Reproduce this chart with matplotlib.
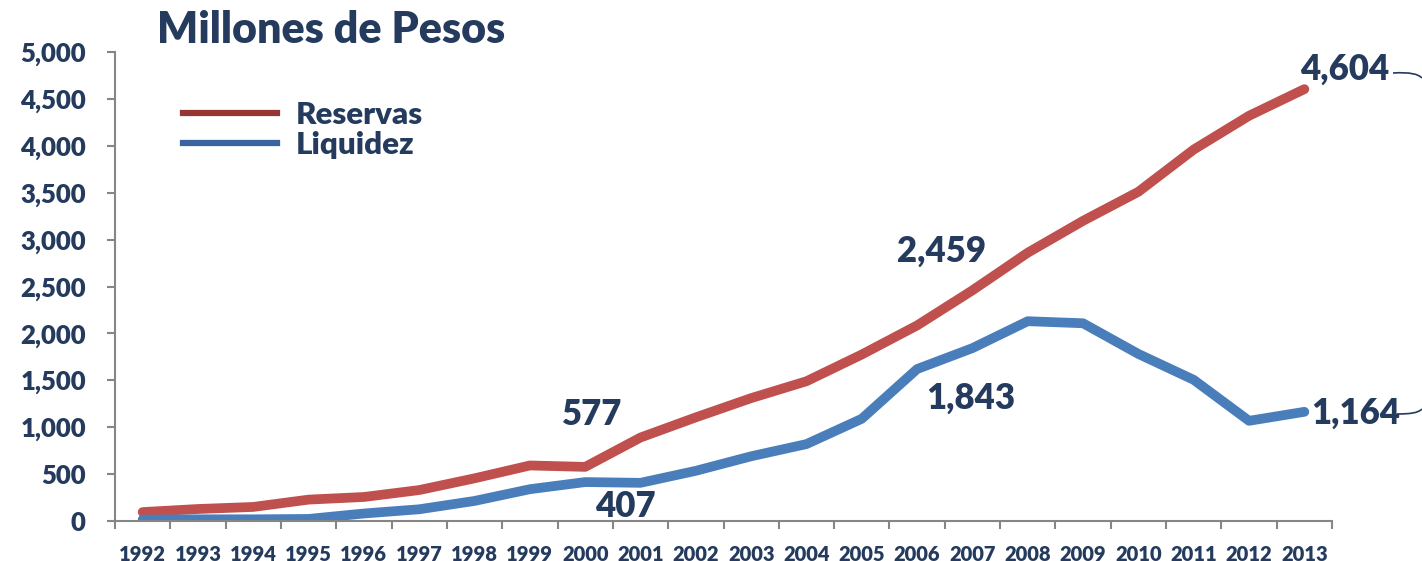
import matplotlib.pyplot as plt
import numpy as np
from matplotlib.lines import Line2D
from matplotlib.path import Path
from matplotlib.patches import PathPatch
from matplotlib.ticker import FixedLocator, StrMethodFormatter

plt.rcParams['font.family'] = ['Lato', 'DejaVu Sans']
plt.rcParams['font.weight'] = 'heavy'

years = [str(y) for y in range(1992, 2014)]
reservas = [95, 128, 150, 228, 256, 330, 455, 592, 577, 890, 1105, 1310,
            1490, 1775, 2085, 2459, 2860, 3200, 3510, 3960, 4320, 4604]
liquidez = [15, 18, 18, 22, 80, 125, 214, 339, 415, 407, 535, 690,
            820, 1090, 1620, 1843, 2130, 2108, 1781, 1505, 1068, 1164]

# year -> label offset in points
labels_reservas = {"2000": (5, 38), "2007": (-22, 28), "2013": (29, 14)}
labels_liquidez = {"2001": (-11, -17), "2007": (-1, -36), "2013": (37, -1)}

navy = "#243B5E"
red = "#C0504D"
blue = "#4A7EBB"
grey = "#868686"

fig = plt.figure(figsize=(14.22, 5.61), dpi=100)
ax = fig.add_axes([115 / 1422, 40 / 561, 1217 / 1422, 469 / 561])

x = np.arange(len(years))
ax.plot(x, reservas, color=red, lw=7, solid_capstyle="round", solid_joinstyle="round")
ax.plot(x, liquidez, color=blue, lw=7, solid_capstyle="round", solid_joinstyle="round")

ax.set_xlim(-0.5, len(years) - 0.5)
ax.set_ylim(0, 5000)
ax.set_yticks(np.arange(0, 5001, 500))
ax.yaxis.set_major_formatter(StrMethodFormatter("{x:,.0f}"))
ax.set_xticks(x)
ax.set_xticklabels(years)
ax.xaxis.set_minor_locator(FixedLocator(np.arange(-0.5, len(years), 1)))

for s in ["top", "right"]:
    ax.spines[s].set_visible(False)
for s in ["left", "bottom"]:
    ax.spines[s].set_color(grey)
    ax.spines[s].set_linewidth(1.5)

ax.tick_params(axis="y", length=6, width=1.5, color=grey, pad=15, labelsize=18.5, labelcolor=navy)
ax.tick_params(axis="x", which="major", length=0, pad=17, labelsize=14.5, labelcolor=navy)
ax.tick_params(axis="x", which="minor", length=6, width=1.5, color=grey)

for series, labs in [(reservas, labels_reservas), (liquidez, labels_liquidez)]:
    for yr, off in labs.items():
        i = years.index(yr)
        ax.annotate(f"{series[i]:,}", xy=(i, series[i]), xytext=off, textcoords="offset points",
                    ha="center", va="center", fontsize=25, color=navy,
                    annotation_clip=False)

fig.text(157 / 1422, 1 - 30 / 561, "Millones de Pesos", fontsize=31, color=navy,
         va="center", ha="left")

handles = [Line2D([], [], color="#943634", lw=4.5), Line2D([], [], color="#3A64A0", lw=4.5)]
ax.legend(handles, ["Reservas", "Liquidez"], loc="center left",
          bbox_to_anchor=(183 / 1422, 1 - 130 / 561), bbox_transform=fig.transFigure,
          frameon=False, handlelength=3.0, handletextpad=0.62,
          labelspacing=0.05, borderpad=0, borderaxespad=0, labelcolor=navy,
          prop={"weight": "heavy", "size": 22.5})

# bracket stubs at the right edge
def px(xp, yp):
    return (xp / 1422, 1 - yp / 561)

top = Path([px(1393, 73), px(1410, 72), px(1418, 74), px(1422, 78)],
           [Path.MOVETO, Path.CURVE4, Path.CURVE4, Path.CURVE4])
bot = Path([px(1397, 414), px(1410, 414), px(1418, 413), px(1422, 409)],
           [Path.MOVETO, Path.CURVE4, Path.CURVE4, Path.CURVE4])
for p in (top, bot):
    fig.add_artist(PathPatch(p, transform=fig.transFigure, fill=False, edgecolor=navy, lw=1.2))

fig.savefig("out.png", dpi=100)
